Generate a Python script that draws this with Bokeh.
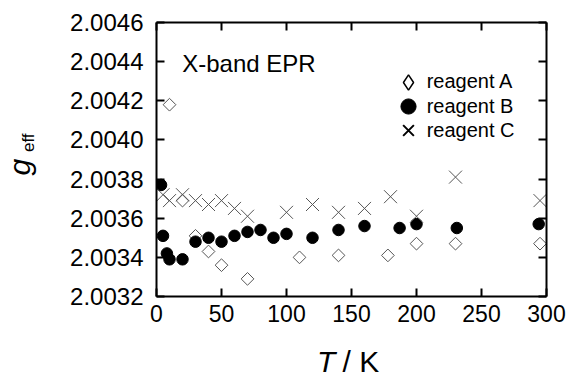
import math
from bokeh.plotting import figure
from bokeh.models import (Range1d, FixedTicker, LinearAxis, PrintfTickFormatter,
                          Label, Legend, LegendItem, ColumnDataSource)
from bokeh.embed import file_html
from bokeh.resources import INLINE

# ---- data ----
x_ticks = [0, 50, 100, 150, 200, 250, 300]
y_ticks = [2.0032, 2.0034, 2.0036, 2.0038, 2.0040, 2.0042, 2.0044, 2.0046]

A_T = [10, 20, 30, 40, 50, 70, 110, 140, 178, 200, 230, 295]
A_g = [2.00418, 2.00369, 2.00351, 2.00343, 2.00336, 2.00329, 2.00340, 2.00341,
       2.00341, 2.00347, 2.00347, 2.00347]

B_T = [3.5, 5, 8, 10, 20, 30, 40, 50, 60, 70, 80, 90, 100, 120, 140, 160, 187, 200, 231, 294]
B_g = [2.00377, 2.00351, 2.00342, 2.00339, 2.00339, 2.00348, 2.00350, 2.00348, 2.00351,
       2.00353, 2.00354, 2.00350, 2.00352, 2.00350, 2.00354, 2.00356, 2.00355, 2.00357,
       2.00355, 2.00357]

C_T = [5, 10, 20, 30, 40, 50, 60, 70, 100, 120, 140, 160, 180, 200, 230, 295]
C_g = [2.00372, 2.00369, 2.00372, 2.00369, 2.00367, 2.00369, 2.00365, 2.00361, 2.00363,
       2.00367, 2.00363, 2.00365, 2.00371, 2.00361, 2.00381, 2.00369]

series_names = ["reagent A", "reagent B", "reagent C"]

FONT = "Liberation Sans"

W, H = 568, 376
FL, FR, FT, FB = 156, 546, 22, 296  # frame edges in page pixels

p = figure(width=W, height=H, output_backend="svg", toolbar_location=None,
           x_range=Range1d(0, 300), y_range=Range1d(2.0032, 2.0046),
           min_border_left=FL, min_border_right=W - FR, min_border_top=FT,
           min_border_bottom=H - FB)
p.xgrid.visible = False
p.ygrid.visible = False
p.outline_line_color = None
p.background_fill_color = "white"


def style_axis(ax, size="23px", standoff=6):
    ax.axis_line_width = 2
    ax.axis_line_color = "black"
    ax.major_tick_in = 8
    ax.major_tick_out = 0
    ax.major_tick_line_width = 2
    ax.major_tick_line_color = "black"
    ax.minor_tick_line_color = None
    ax.major_label_text_font = FONT
    ax.major_label_text_color = "black"
    ax.major_label_text_font_size = size
    ax.major_label_standoff = standoff


p.xaxis.ticker = FixedTicker(ticks=x_ticks)
p.yaxis.ticker = FixedTicker(ticks=y_ticks)
p.yaxis.formatter = PrintfTickFormatter(format="%.4f")
style_axis(p.xaxis[0], "23px", 8)
style_axis(p.yaxis[0], "24px", 13)

top = LinearAxis(ticker=FixedTicker(ticks=x_ticks),
                 major_label_overrides={t: "" for t in x_ticks})
style_axis(top, "1px", 0)
p.add_layout(top, "above")
right = LinearAxis(ticker=FixedTicker(ticks=y_ticks),
                   major_label_overrides={t: "" for t in y_ticks})
style_axis(right, "1px", 0)
p.add_layout(right, "right")

# ---- data marks ----
XS = math.sqrt(2)  # bokeh's "x" marker spans about size/sqrt(2)
p.scatter(A_T, A_g, marker="square", angle=math.pi / 4, size=9,
          fill_color=None, line_color="#555555", line_width=1)
p.scatter(B_T, B_g, marker="circle", size=11.5,
          fill_color="black", line_color="black", line_width=1)
p.scatter(C_T, C_g, marker="x", size=13 * XS, line_color="#555555", line_width=1)

# ---- legend (proxy renderers, no visible points) ----
def proxy():
    return ColumnDataSource(data=dict(x=[float("nan")], y=[float("nan")]))


la = p.scatter("x", "y", source=proxy(), marker="diamond",
               size=9, fill_color=None, line_color="black", line_width=1.5)
lb = p.scatter("x", "y", source=proxy(), marker="circle",
               size=11, fill_color="black", line_color="black")
lc = p.scatter("x", "y", source=proxy(), marker="x",
               size=12, line_color="black", line_width=2)

GS = 38          # legend glyph box -> marker size 0.4*GS
LABEL_X = 426.7  # page x where legend labels start
for name, rend, cy in [(series_names[0], la, 81.7),
                       (series_names[1], lb, 106.0),
                       (series_names[2], lc, 130.0)]:
    vy = FB - cy - GS / 2
    vx = LABEL_X - GS - FL
    lg = Legend(items=[LegendItem(label=name, renderers=[rend])],
                location=(vx, vy), glyph_width=GS, glyph_height=GS,
                label_standoff=0, padding=0, margin=0,
                spacing=0, border_line_color=None, background_fill_alpha=0,
                label_text_font=FONT, label_text_font_size="20px",
                label_text_color="black")
    p.add_layout(lg)

# ---- texts ----
p.add_layout(Label(x=181.7 - FL, y=FB - 63.3, x_units="screen", y_units="screen",
                   text="X-band EPR", text_font=FONT, text_font_size="24px",
                   text_color="black", text_baseline="alphabetic"))

# x axis title: T / K  (canvas units; side panels are not clipped to the frame)
p.add_layout(Label(x=316.5, y=361, x_units="canvas", y_units="canvas",
                   text="T", text_font=FONT, text_font_size="30px",
                   text_font_style="italic", text_color="black",
                   text_baseline="alphabetic"), "right")
p.add_layout(Label(x=342, y=361, x_units="canvas", y_units="canvas",
                   text="/ K", text_font=FONT, text_font_size="30px",
                   text_color="black", text_baseline="alphabetic"), "below")

# y axis title: g_eff
p.add_layout(Label(x=18.5, y=175, x_units="canvas", y_units="canvas",
                   text="g", text_font=FONT, text_font_size="30px",
                   text_font_style="italic", text_color="black",
                   text_baseline="alphabetic", angle=math.pi / 2), "left")
p.add_layout(Label(x=27.5, y=151.5, x_units="canvas", y_units="canvas",
                   text="eff", text_font=FONT, text_font_size="17px",
                   text_color="black", text_baseline="alphabetic", angle=math.pi / 2), "left")

open("out.html", "w").write(file_html(p, INLINE))
